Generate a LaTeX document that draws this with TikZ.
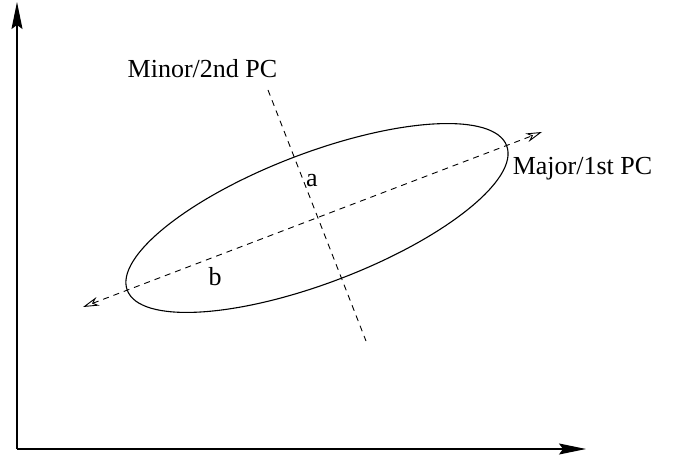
\documentclass[tikz,border=0pt]{standalone}
\usepackage{fontspec}
\setmainfont{Liberation Serif}
\usetikzlibrary{arrows.meta}
\tikzset{
  axis/.style={line width=1.2bp, -{Stealth[length=27bp, width=11bp, inset=4bp]}},
  pcline/.style={line width=0.9bp, dash pattern=on 6bp off 5bp,
    {Stealth[open, length=16bp, width=9bp, inset=5bp, line width=0.9bp]}-{Stealth[open, length=16bp, width=9bp, inset=5bp, line width=0.9bp]}},
  pcline1/.style={line width=0.9bp, dash pattern=on 6bp off 5bp},
  lbl/.style={inner sep=0pt, anchor=base, font=\fontsize{26bp}{30bp}\selectfont},
}
\begin{document}
\begin{tikzpicture}[x=1bp, y=-1bp]
\useasboundingbox (0,0) rectangle (676,460);
% axes
\coordinate (O) at (17,449);
\coordinate (ytip) at (17,2);
\coordinate (xtip) at (586,449);
\draw[axis] (O) -- (ytip);
\draw[axis] (O) -- (xtip);
% ellipse
\coordinate (C) at (317,218);
\draw[line width=1.1bp, rotate around={20.87:(C)}] (C) ellipse [x radius=203, y radius=65];
% principal components
\coordinate (majA) at (83,307);
\coordinate (majB) at (542,132);
\draw[pcline] (majA) -- (majB);
\coordinate (minA) at (268,90);
\coordinate (minB) at (366,341);
\draw[pcline1] (minA) -- (minB);
% labels
\node[lbl] (minorlbl) at (202.5,78) {Minor/2nd PC};
\node[lbl] (majorlbl) at (582.5,175) {Major/1st PC};
\node[lbl] (alabel) at (312,187) {a};
\node[lbl] (blabel) at (215,286) {b};
\end{tikzpicture}
\end{document}
